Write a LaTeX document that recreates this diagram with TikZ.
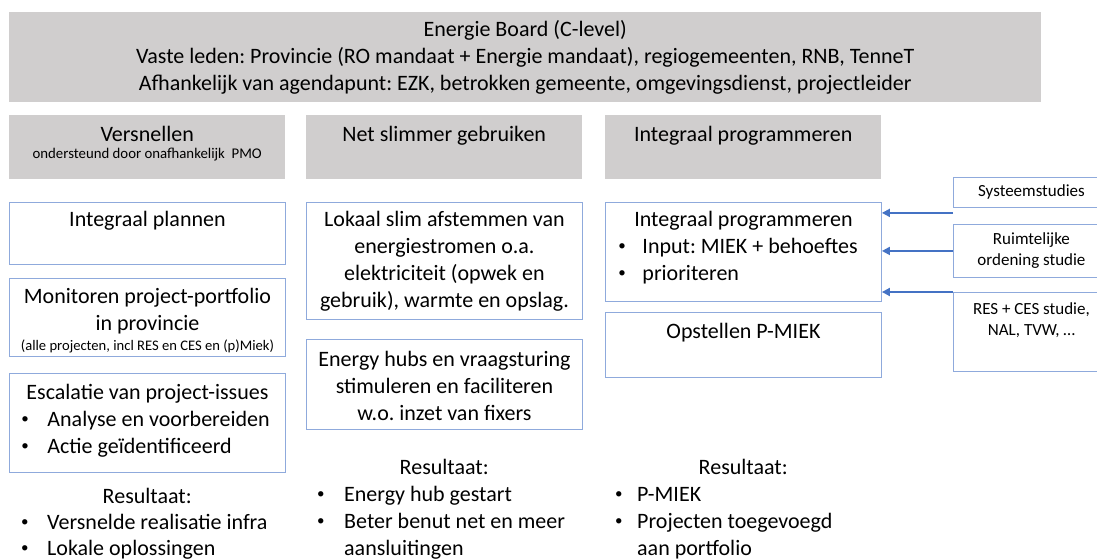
\documentclass[tikz,border=0pt]{standalone}
\usepackage{fontspec}
\setmainfont{Carlito}
\usetikzlibrary{arrows.meta}
\definecolor{boardgrey}{HTML}{D0CECE}
\definecolor{boxblue}{HTML}{8FAADC}
\definecolor{arrowblue}{HTML}{4472C4}
% bullet line: indent, bullet box width, text
\newcommand{\itm}[3]{\hspace*{#1}\makebox[#2][l]{\raisebox{2.5pt}{\fontsize{15}{15}\selectfont •}}#3}
\begin{document}
\frenchspacing
\begin{tikzpicture}[x=1pt,y=-1pt,
  every node/.style={inner sep=0pt, font=\fontsize{22}{27}\selectfont},
  boardfill/.style={fill=boardgrey, anchor=north west},
  header/.style={boardfill, text width=276pt, align=flush center, text height=26pt, text depth=38pt},
  bluebox/.style={draw=boxblue, line width=0.9pt, anchor=north west, text width=276pt, align=flush center, text height=24pt},
  sidebox/.style={draw=boxblue, line width=0.9pt, anchor=north west, text width=156pt, align=flush center, font=\fontsize{17}{21}\selectfont},
  result/.style={anchor=base west, text width=276pt, align=flush left},
  feed/.style={draw=arrowblue, line width=1.8pt, -{Triangle[length=8pt,width=8pt]}}]
\clip (0,0) rectangle (1097,559);

% board
\node[boardfill, minimum width=1032pt, minimum height=90pt, align=center] (board) at (9,12)
  {Energie Board (C-level)\\
   Vaste leden: Provincie (RO mandaat + Energie mandaat), regiogemeenten, RNB, TenneT\\
   Afhankelijk van agendapunt: EZK, betrokken gemeente, omgevingsdienst, projectleider};

% column headers
\node[header] (vers) at (9,115)
  {Versnellen\\[-10pt]{\fontsize{14.8}{17}\selectfont ondersteund door onafhankelijk~ PMO}};
\node[header] (netslim) at (306,115) {Net slimmer gebruiken};
\node[header] (intprog) at (605,115) {Integraal programmeren};

% column 1
\node[bluebox, text depth=38pt] (plan) at (9,202) {Integraal plannen};
\node[bluebox, text height=25pt, text depth=53pt] (monitor) at (9,278)
  {Monitoren project-portfolio\\in provincie\\[-7pt]
   {\fontsize{14.6}{15}\selectfont (alle projecten, incl RES en CES en (p)Miek)}};
\node[bluebox, align=flush left, text height=26pt, text depth=73pt] (escal) at (9,373)
  {\makebox[\linewidth]{Escalatie van project-issues}\\
   \itm{12pt}{26pt}{Analyse en voorbereiden}\\
   \itm{12pt}{26pt}{Actie geïdentificeerd}};

% column 2
\node[bluebox, text depth=93pt] (lokaal) at (306,202)
  {Lokaal slim afstemmen van\\energiestromen o.a.\\elektriciteit (opwek en\\gebruik), warmte en opslag.};
\node[bluebox, text height=27pt, text depth=63pt] (hubs) at (306,339)
  {Energy hubs en vraagsturing\\stimuleren en faciliteren\\w.o. inzet van fixers};

% column 3
\node[bluebox, align=flush left, text depth=75pt] (prog) at (605,202)
  {\makebox[\linewidth]{Integraal programmeren}\\
   \itm{13pt}{24pt}{Input: MIEK + behoeftes}\\
   \itm{13pt}{24pt}{prioriteren}};
\node[bluebox, text height=26pt, text depth=39pt] (pmiek) at (605,312) {Opstellen P-MIEK};

% inputs
\node[sidebox, minimum height=30pt] (sys) at (953,177) {Systeemstudies};
\node[sidebox, minimum height=53pt] (ruimte) at (953,224) {Ruimtelijke\\ordening studie};
\node[sidebox, text height=22pt, text depth=57pt] (resces) at (953,292) {RES + CES studie,\\NAL, TVW, …};

\path ([yshift=-5pt]sys.south west) coordinate (sysout);
\draw[feed] (sysout) -- (sysout -| prog.east);
\draw[feed] (ruimte.west) -- (ruimte.west -| prog.east);
\draw[feed] (resces.north west) -- (resces.north west -| prog.east);

% results
\node[result] (res1) at (9,503)
  {\makebox[\linewidth]{Resultaat:}\\[-1pt]
   \itm{12pt}{26pt}{Versnelde realisatie infra}\\[-1pt]
   \itm{12pt}{26pt}{Lokale oplossingen}};
\node[result] (res2) at (306,474)
  {\makebox[\linewidth]{Resultaat:}\\
   \itm{11pt}{27pt}{Energy hub gestart}\\
   \itm{11pt}{27pt}{Beter benut net en meer}\\
   \hspace*{38pt}aansluitingen};
\node[result] (res3) at (605,474)
  {\makebox[\linewidth]{Resultaat:}\\
   \itm{10pt}{22pt}{P-MIEK}\\
   \itm{10pt}{22pt}{Projecten toegevoegd}\\
   \hspace*{32pt}aan portfolio};
\end{tikzpicture}
\end{document}
